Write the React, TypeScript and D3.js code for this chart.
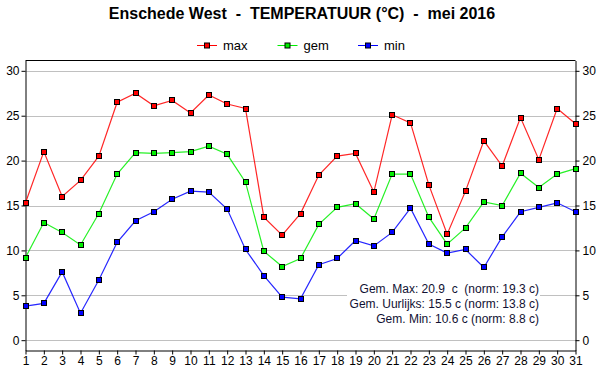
import React, { useEffect, useRef } from "react";
import * as d3 from "d3";

// mei 2016, Enschede West
const days = d3.range(1, 32);
const maxTemp = [
  15.3, 21.0, 16.0, 17.8, 20.5, 26.5, 27.5, 26.1, 26.7, 25.3,
  27.3, 26.3, 25.8, 13.7, 11.7, 14.1, 18.4, 20.5, 20.8, 16.5,
  25.1, 24.2, 17.3, 11.8, 16.6, 22.2, 19.4, 24.8, 20.1, 25.8, 24.1,
];
const gemTemp = [
  9.2, 13.1, 12.0, 10.6, 14.1, 18.5, 20.9, 20.8, 20.9, 21.0,
  21.6, 20.7, 17.6, 9.9, 8.2, 9.1, 12.9, 14.8, 15.2, 13.5,
  18.5, 18.5, 13.7, 10.7, 12.5, 15.4, 15.0, 18.6, 17.0, 18.5, 19.1,
];
const minTemp = [
  3.8, 4.1, 7.6, 3.0, 6.7, 10.9, 13.3, 14.3, 15.7, 16.6,
  16.5, 14.6, 10.1, 7.2, 4.8, 4.6, 8.4, 9.1, 11.1, 10.5,
  12.0, 14.7, 10.7, 9.7, 10.1, 8.1, 11.5, 14.3, 14.8, 15.3, 14.3,
];
const yTicks = [0, 5, 10, 15, 20, 25, 30];
const seriesNames = ["max", "gem", "min"];
const seriesColors = ["#ff0000", "#00ee00", "#0000ff"];
const summaryLines = [
  "Gem. Max: 20.9  c  (norm: 19.3 c)",
  "Gem. Uurlijks: 15.5 c (norm: 13.8 c)",
  "Gem. Min: 10.6 c (norm: 8.8 c)",
];
const title = "Enschede West  -  TEMPERATUUR (\u00B0C)  -  mei 2016";

// keep double spaces visible in svg text
const keepSpaces = (s: string) => s.replace(/  /g, " \u00A0");

const App = () => {
  const svgRef = useRef<SVGSVGElement>(null);

  useEffect(() => {
    document.body.style.margin = "0";
    const width = 600;
    const height = 390;
    const left = 25.5;
    const right = 575.5;
    const top = 60.5;
    const bottom = 350.5;
    const font = "'Liberation Sans', Arial, sans-serif";

    const svg = d3.select(svgRef.current);
    svg.selectAll("*").remove();
    svg
      .attr("width", width)
      .attr("height", height)
      .style("font-family", font)
      .style("display", "block");

    svg.append("rect").attr("width", width).attr("height", height).attr("fill", "#fff");

    const x = d3.scaleLinear().domain([1, 31]).range([left, right]);
    const y = d3.scaleLinear().domain([-1.15, 31.15]).range([bottom, top]);

    // title
    svg
      .append("text")
      .attr("x", 302)
      .attr("y", 19)
      .attr("text-anchor", "middle")
      .style("font-size", "16px")
      .style("font-weight", "bold")
      .text(keepSpaces(title));

    // gridlines
    svg
      .append("g")
      .selectAll("line")
      .data(yTicks)
      .enter()
      .append("line")
      .attr("x1", left)
      .attr("x2", right)
      .attr("y1", (d) => Math.round(y(d)) + 0.5)
      .attr("y2", (d) => Math.round(y(d)) + 0.5)
      .attr("stroke", "#c0c0c0");

    // summary box
    svg
      .append("rect")
      .attr("x", 347)
      .attr("y", 279)
      .attr("width", 193)
      .attr("height", 46)
      .attr("fill", "#fff");
    svg
      .append("g")
      .selectAll("text")
      .data(summaryLines)
      .enter()
      .append("text")
      .attr("x", 539)
      .attr("y", (d, i) => 293 + i * 15)
      .attr("text-anchor", "end")
      .attr("fill", "#111133")
      .style("font-size", "12px")
      .text((d) => keepSpaces(d));

    // axes
    const styleAxis = (g) => {
      g.selectAll("text").style("font-size", "12px").style("font-family", font).attr("fill", "#000");
      g.selectAll("line").attr("stroke", "#000");
      g.select(".domain").attr("stroke", "#000");
    };
    svg
      .append("g")
      .attr("transform", `translate(${left},0)`)
      .call(d3.axisLeft(y).tickValues(yTicks).tickSize(4).tickSizeOuter(0).tickPadding(2))
      .call(styleAxis);
    svg
      .append("g")
      .attr("transform", `translate(${right},0)`)
      .call(d3.axisRight(y).tickValues(yTicks).tickSize(4).tickSizeOuter(0).tickPadding(3))
      .call(styleAxis);
    svg
      .append("g")
      .attr("transform", `translate(0,${bottom})`)
      .call(d3.axisBottom(x).tickValues(days).tickFormat(d3.format("d")).tickSize(4).tickSizeOuter(0).tickPadding(2))
      .call(styleAxis);
    svg
      .append("line")
      .attr("x1", left)
      .attr("x2", right)
      .attr("y1", top)
      .attr("y2", top)
      .attr("stroke", "#000");

    // series
    const allSeries = [maxTemp, gemTemp, minTemp];
    const line = d3
      .line<number>()
      .x((d, i) => x(days[i]))
      .y((d) => y(d));

    allSeries.forEach((values, s) => {
      svg
        .append("path")
        .datum(values)
        .attr("d", line)
        .attr("fill", "none")
        .attr("stroke", seriesColors[s])
        .attr("stroke-width", 1.2)
        .attr("opacity", 0.85);
    });
    allSeries.forEach((values, s) => {
      svg
        .append("g")
        .selectAll("rect")
        .data(values)
        .enter()
        .append("rect")
        .attr("x", (d, i) => Math.round(x(days[i])) - 2.5)
        .attr("y", (d) => Math.round(y(d)) - 2.5)
        .attr("width", 5)
        .attr("height", 5)
        .attr("fill", seriesColors[s])
        .attr("stroke", "#000");
    });

    // legend
    const legend = svg
      .append("g")
      .selectAll("g")
      .data(seriesNames)
      .enter()
      .append("g")
      .attr("transform", (d, i) => `translate(${197 + i * 80.5},45.5)`);
    legend
      .append("line")
      .attr("x1", 0)
      .attr("x2", 20)
      .attr("stroke", (d, i) => seriesColors[i]);
    legend
      .append("rect")
      .attr("x", 7.5)
      .attr("y", -2.5)
      .attr("width", 5)
      .attr("height", 5)
      .attr("fill", (d, i) => seriesColors[i])
      .attr("stroke", "#000");
    legend
      .append("text")
      .attr("x", 26)
      .attr("y", 4.5)
      .style("font-size", "13px")
      .text((d) => d);
  }, []);

  return <svg ref={svgRef}></svg>;
};

export default App;
